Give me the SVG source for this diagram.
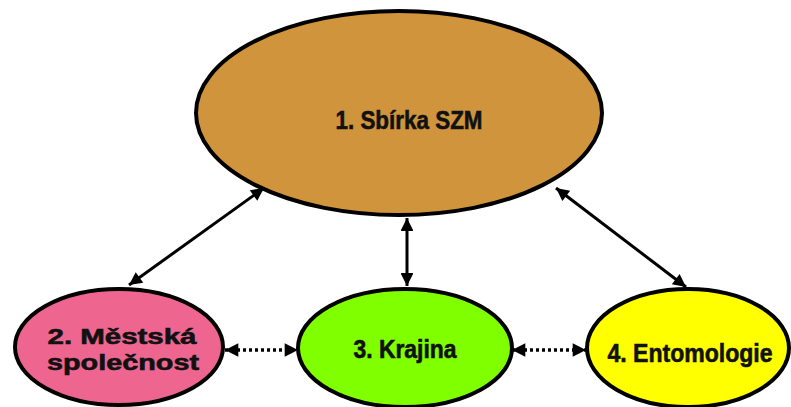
<svg xmlns="http://www.w3.org/2000/svg" width="791" height="407" viewBox="0 0 791 407">
<style>
.n{stroke:#000;stroke-width:4}
.t{font-family:"Liberation Sans",Arial,sans-serif;font-weight:bold;font-size:25px;fill:#111;stroke:#111;stroke-width:0.6;text-anchor:middle}
.c{stroke:#000;stroke-width:3;fill:none}
.d{stroke:#000;stroke-width:3.5;fill:none;stroke-dasharray:3 3}
</style>
<defs>
<marker id="a" viewBox="0 0 10 10" refX="10" refY="5" markerWidth="5" markerHeight="4.3" markerUnits="strokeWidth" orient="auto-start-reverse">
<path d="M0,0L10,5L0,10z" fill="#000"/>
</marker>
<marker id="b" viewBox="0 0 10 10" refX="10" refY="5" markerWidth="4.2" markerHeight="3.8" markerUnits="strokeWidth" orient="auto-start-reverse">
<path d="M0,0L10,5L0,10z" fill="#000"/>
</marker>
</defs>
<rect width="791" height="407" fill="#fff"/>
<g id="connectors">
<line class="c" x1="129" y1="285" x2="264" y2="188" marker-start="url(#a)" marker-end="url(#a)"/>
<line class="c" x1="407" y1="218" x2="407" y2="286" marker-start="url(#a)" marker-end="url(#a)"/>
<line class="c" x1="556" y1="188" x2="686" y2="287" marker-start="url(#a)" marker-end="url(#a)"/>
<line class="d" x1="225" y1="350" x2="298" y2="350" marker-start="url(#b)" marker-end="url(#b)"/>
<line class="d" x1="512" y1="350" x2="586" y2="350" marker-start="url(#b)" marker-end="url(#b)"/>
</g>
<g id="node1">
<ellipse class="n" cx="399" cy="113" rx="203" ry="102" fill="#CF943C"/>
<text class="t" x="409" y="129" style="font-size:26.5px" textLength="147" lengthAdjust="spacingAndGlyphs">1. Sbírka SZM</text>
</g>
<g id="node2">
<ellipse class="n" cx="119" cy="347" rx="104" ry="58" fill="#EE6690"/>
<text class="t" x="122" y="344" style="font-size:22px" textLength="149" lengthAdjust="spacingAndGlyphs">2. Městská</text>
<text class="t" x="123" y="370" style="font-size:22px" textLength="152" lengthAdjust="spacingAndGlyphs">společnost</text>
</g>
<g id="node3">
<ellipse class="n" cx="405" cy="348" rx="107" ry="59" fill="#80FF00"/>
<text class="t" x="405" y="358" textLength="103" lengthAdjust="spacingAndGlyphs">3. Krajina</text>
</g>
<g id="node4">
<ellipse class="n" cx="688" cy="348" rx="101" ry="59" fill="#FFFF00"/>
<text class="t" x="690" y="362" textLength="165" lengthAdjust="spacingAndGlyphs">4. Entomologie</text>
</g>
</svg>
